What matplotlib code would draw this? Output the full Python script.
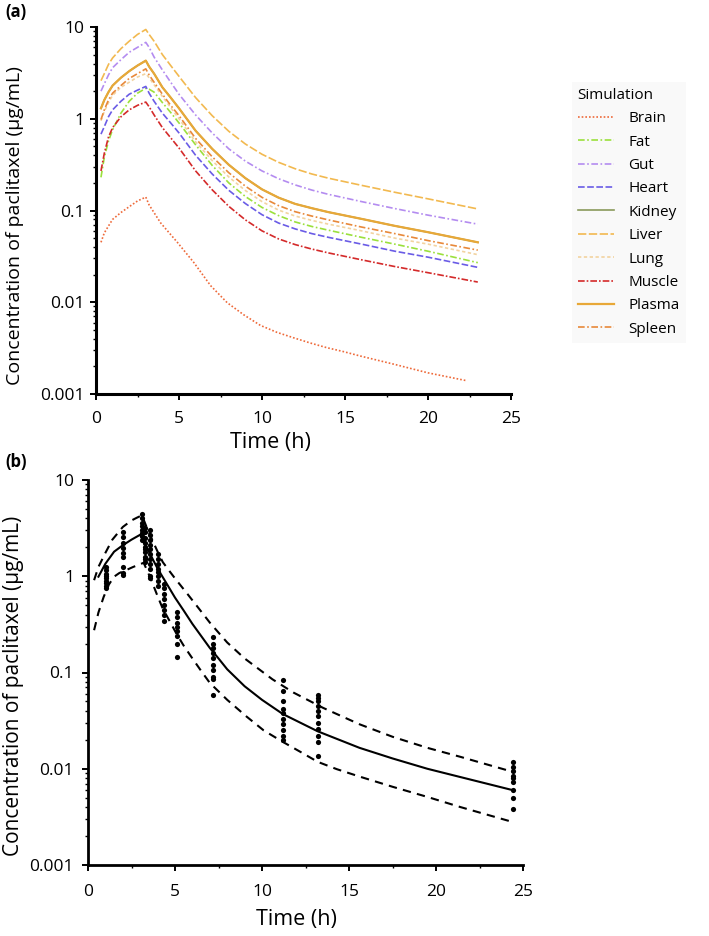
import numpy as np
import matplotlib
matplotlib.use("Agg")
import matplotlib.pyplot as plt
from matplotlib.ticker import MultipleLocator, LogLocator, NullFormatter, FixedLocator

plt.rcParams['font.family'] = ['Open Sans', 'DejaVu Sans']

# ---- panel (a): simulated tissue profiles ----
t_sim = [0.3, 0.5, 0.75, 1, 1.5, 2, 2.5, 3, 3.2, 3.5, 4, 4.5, 5, 6, 7, 8, 9, 10, 11, 12, 13, 14, 16, 18, 20, 23]
liver = [2.6, 3.1, 3.9, 4.6, 5.8, 7.0, 8.3, 9.4, 8.3, 7.0, 5.0, 3.8, 2.9, 1.7, 1.08, 0.73, 0.53, 0.41, 0.335,
         0.285, 0.25, 0.225, 0.188, 0.158, 0.134, 0.104]
gut = [2.0, 2.4, 3.0, 3.6, 4.4, 5.3, 6.0, 6.8, 6.0, 4.7, 3.4, 2.5, 1.85, 1.10, 0.70, 0.47, 0.345, 0.27, 0.222,
       0.19, 0.167, 0.15, 0.125, 0.105, 0.089, 0.071]
plasma = [1.3, 1.6, 1.95, 2.3, 2.8, 3.3, 3.8, 4.3, 3.7, 3.1, 2.2, 1.7, 1.3, 0.74, 0.47, 0.315, 0.225, 0.17,
          0.138, 0.118, 0.106, 0.096, 0.081, 0.068, 0.058, 0.045]
kidney = [1.3, 1.6, 1.95, 2.3, 2.8, 3.3, 3.8, 4.3, 3.7, 3.1, 2.2, 1.7, 1.3, 0.74, 0.47, 0.315, 0.225, 0.17,
          0.138, 0.118, 0.106, 0.096, 0.081, 0.068, 0.058, 0.045]
spleen = [0.98, 1.25, 1.6, 1.9, 2.3, 2.75, 3.1, 3.5, 3.0, 2.5, 1.85, 1.4, 1.08, 0.61, 0.385, 0.258, 0.184,
          0.139, 0.113, 0.097, 0.087, 0.079, 0.066, 0.056, 0.047, 0.037]
lung = [0.95, 1.2, 1.5, 1.8, 2.2, 2.5, 2.85, 3.1, 2.8, 2.35, 1.75, 1.32, 1.0, 0.56, 0.35, 0.232, 0.165, 0.125,
        0.101, 0.087, 0.078, 0.071, 0.06, 0.05, 0.043, 0.033]
heart = [0.68, 0.82, 1.05, 1.25, 1.55, 1.85, 2.05, 2.25, 1.9, 1.55, 1.15, 0.9, 0.70, 0.40, 0.25, 0.166, 0.119,
         0.09, 0.073, 0.063, 0.056, 0.051, 0.043, 0.036, 0.031, 0.024]
fat = [0.23, 0.38, 0.57, 0.76, 1.15, 1.55, 1.9, 2.15, 2.1, 1.95, 1.5, 1.17, 0.9, 0.52, 0.31, 0.2, 0.142, 0.108,
       0.088, 0.075, 0.067, 0.061, 0.051, 0.043, 0.036, 0.027]
muscle = [0.27, 0.42, 0.63, 0.8, 1.05, 1.25, 1.4, 1.52, 1.35, 1.1, 0.8, 0.62, 0.48, 0.27, 0.168, 0.111, 0.079,
          0.06, 0.049, 0.0425, 0.038, 0.0345, 0.029, 0.0245, 0.021, 0.0166]
t_brain = [0.3, 0.5, 0.8, 1.0, 1.5, 2.0, 2.5, 3.0, 3.2, 3.9, 4.9, 5.9, 6.9, 7.9, 8.9, 9.9, 10.9, 11.9, 12.9,
           13.9, 14.9, 15.9, 18, 20, 22.3]
brain = [0.045, 0.057, 0.07, 0.08, 0.095, 0.11, 0.127, 0.14, 0.115, 0.073, 0.045, 0.027, 0.0152, 0.0099, 0.0073,
         0.0056, 0.0047, 0.0041, 0.0036, 0.0032, 0.0029, 0.0026, 0.0021, 0.0017, 0.0014]

# ---- panel (b): plasma model and observations ----
t_med = [0.6, 1.0, 1.5, 2.0, 2.5, 3.0, 3.25, 3.5, 4.0, 4.5, 5.0, 5.5, 6.0, 6.5, 7.0, 7.5, 8.0, 9.0, 10, 11.2,
         13.2, 15.6, 17.5, 19.5, 21.4, 24.4]
c_med = [0.99, 1.35, 1.8, 2.1, 2.4, 2.7, 2.2, 1.8, 1.2, 0.85, 0.6, 0.44, 0.32, 0.24, 0.18, 0.14, 0.108, 0.072,
         0.052, 0.037, 0.0245, 0.0165, 0.0128, 0.0100, 0.0082, 0.0060]
t_hi = [0.35, 0.6, 1.0, 1.4, 2.0, 2.5, 2.8, 3.1, 3.35, 3.6, 4.0, 4.3, 4.7, 5.0, 5.7, 6.3, 7.0, 7.5, 8.0, 9.0,
        10.6, 11.8, 13.5, 15.6, 17.5, 19.5, 21.4, 24.4]
c_hi = [0.91, 1.25, 1.75, 2.4, 3.25, 3.8, 4.05, 4.3, 3.3, 2.6, 1.8, 1.4, 1.12, 0.95, 0.66, 0.48, 0.33, 0.26,
        0.205, 0.14, 0.085, 0.062, 0.043, 0.029, 0.0215, 0.0165, 0.0133, 0.0093]
t_lo = [0.35, 0.6, 0.9, 1.2, 1.5, 1.8, 2.2, 2.6, 3.2, 3.6, 4.0, 4.3, 4.7, 5.1, 5.5, 6.0, 6.5, 7.0, 8.0, 9.1,
        10.1, 11.2, 12.2, 13.2, 14.3, 15.6, 17.5, 19.5, 21.4, 24.4]
c_lo = [0.275, 0.42, 0.61, 0.82, 0.99, 1.08, 1.16, 1.25, 1.38, 0.95, 0.62, 0.46, 0.34, 0.25, 0.19, 0.14, 0.104,
        0.078, 0.052, 0.035, 0.025, 0.019, 0.015, 0.0118, 0.0099, 0.0083, 0.0065, 0.0051, 0.004, 0.0028]

obs = {
    1.05: [1.25, 1.15, 1.05, 1.0, 0.95, 0.9, 0.85, 0.8, 0.75],
    2.0: [2.9, 2.57, 2.2, 1.95, 1.73, 1.6, 1.26, 1.07, 1.03],
    3.1: [4.4, 4.0, 3.6, 3.3, 3.0, 2.8, 2.6, 2.4],
    3.3: [3.2, 2.9, 2.5, 2.2, 2.0, 1.9, 1.8, 1.6, 1.5, 1.4],
    3.55: [3.0, 2.7, 2.4, 2.1, 1.9, 1.7, 1.5, 1.35, 1.2, 1.0, 0.95],
    4.0: [1.7, 1.5, 1.35, 1.2, 1.1, 1.0, 0.9, 0.8],
    4.35: [0.84, 0.75, 0.65, 0.58, 0.5, 0.45, 0.4, 0.34],
    5.1: [0.43, 0.38, 0.33, 0.3, 0.27, 0.24, 0.2, 0.145],
    7.2: [0.235, 0.2, 0.18, 0.16, 0.14, 0.12, 0.105, 0.09, 0.085, 0.058],
    11.2: [0.083, 0.065, 0.05, 0.042, 0.038, 0.033, 0.029, 0.025, 0.022, 0.020],
    13.2: [0.058, 0.054, 0.05, 0.045, 0.04, 0.035, 0.03, 0.026, 0.022, 0.019, 0.0135],
    24.4: [0.0118, 0.0105, 0.0095, 0.0085, 0.008, 0.0072, 0.006, 0.005, 0.0038],
}

W, H = 709, 936
fig = plt.figure(figsize=(W / 100, H / 100), dpi=100)

def style_axis(ax, spine_w, xpad, ypad):
    for s in ['top', 'right']:
        ax.spines[s].set_visible(False)
    for s in ['left', 'bottom']:
        ax.spines[s].set_linewidth(spine_w)
    ax.set_yscale('log')
    ax.set_ylim(0.001, 10)
    ax.set_xlim(0, 25)
    ax.xaxis.set_major_locator(MultipleLocator(5))
    ax.xaxis.set_minor_locator(MultipleLocator(2.5))
    ax.yaxis.set_major_locator(FixedLocator([0.001, 0.01, 0.1, 1, 10]))
    ax.yaxis.set_minor_locator(LogLocator(base=10, subs=np.arange(2, 10)))
    ax.yaxis.set_minor_formatter(NullFormatter())
    ax.set_yticklabels(['0.001', '0.01', '0.1', '1', '10'])
    ax.tick_params(which='major', direction='out', length=4, width=1.4, labelsize=12.5, color='black')
    ax.tick_params(which='minor', direction='out', length=2.5, width=1.0)
    ax.tick_params(axis='x', which='major', pad=xpad)
    ax.tick_params(axis='y', which='major', pad=ypad)

# panel a
ax1 = fig.add_axes([96 / W, 1 - 394 / H, 415 / W, 367 / H])
style_axis(ax1, 2.2, 8, 4)
lw = 1.2
ax1.plot(t_brain, brain, color='#EE6A3A', ls=(0, (1, 1.2)), lw=lw, label='Brain')
ax1.plot(t_sim, fat, color='#9BE03C', ls=(0, (4, 1.5, 1, 1.5)), lw=lw, label='Fat')
ax1.plot(t_sim, gut, color='#B48CF0', ls=(0, (4, 1.5, 1, 1.5)), lw=lw, label='Gut')
ax1.plot(t_sim, heart, color='#6A5CE6', ls=(0, (4, 1.5)), lw=lw, label='Heart')
ax1.plot(t_sim, kidney, color='#8A9A5B', ls='-', lw=lw, label='Kidney')
ax1.plot(t_sim, liver, color='#F2B950', ls=(0, (5, 1.5)), lw=lw, label='Liver')
ax1.plot(t_sim, lung, color='#F2D3A0', ls=(0, (2, 1.5)), lw=lw, label='Lung')
ax1.plot(t_sim, muscle, color='#D42A2A', ls=(0, (4, 1.2, 1, 1.2)), lw=lw, label='Muscle')
ax1.plot(t_sim, plasma, color='#E8A838', ls='-', lw=1.6, label='Plasma')
ax1.plot(t_sim, spleen, color='#E8893A', ls=(0, (4, 1.5, 1, 1.5)), lw=lw, label='Spleen')
ax1.set_ylabel('Concentration of paclitaxel (μg/mL)', fontsize=14)
ax1.yaxis.set_label_coords(-0.173, 0.458)
ax1.set_xlabel('Time (h)', fontsize=15.5)
ax1.xaxis.set_label_coords(0.42, -0.103)

leg = fig.legend(*ax1.get_legend_handles_labels(), loc='upper left',
                 bbox_to_anchor=(564 / W, 1 - 74 / H), title='Simulation',
                 fontsize=11, title_fontsize=11, frameon=True, facecolor='#f8f8f8',
                 edgecolor='none', fancybox=False, handlelength=2.4, handletextpad=0.9,
                 labelspacing=0.55, borderpad=0.4)
leg._legend_box.align = 'left'

# panel b
ax2 = fig.add_axes([88 / W, 1 - 865 / H, 435 / W, 385 / H])
style_axis(ax2, 2.0, 10, 6)
ax2.plot(t_med, c_med, color='black', lw=1.5)
ax2.plot(t_hi, c_hi, color='black', lw=1.5, ls=(0, (4, 3)))
ax2.plot(t_lo, c_lo, color='black', lw=1.5, ls=(0, (4, 3)))
for t, vals in obs.items():
    ax2.scatter([t] * len(vals), vals, s=14, color='black', zorder=3, linewidths=0)
ax2.set_ylabel('Concentration of paclitaxel (μg/mL)', fontsize=15)
ax2.yaxis.set_label_coords(-0.147, 0.465)
ax2.set_xlabel('Time (h)', fontsize=15.5)
ax2.xaxis.set_label_coords(0.48, -0.113)

fig.text(5 / W, 1 - 12 / H, '(a)', fontsize=12, fontweight='bold', va='center')
fig.text(5 / W, 1 - 462 / H, '(b)', fontsize=12, fontweight='bold', va='center')

fig.savefig('out.png', dpi=100)
